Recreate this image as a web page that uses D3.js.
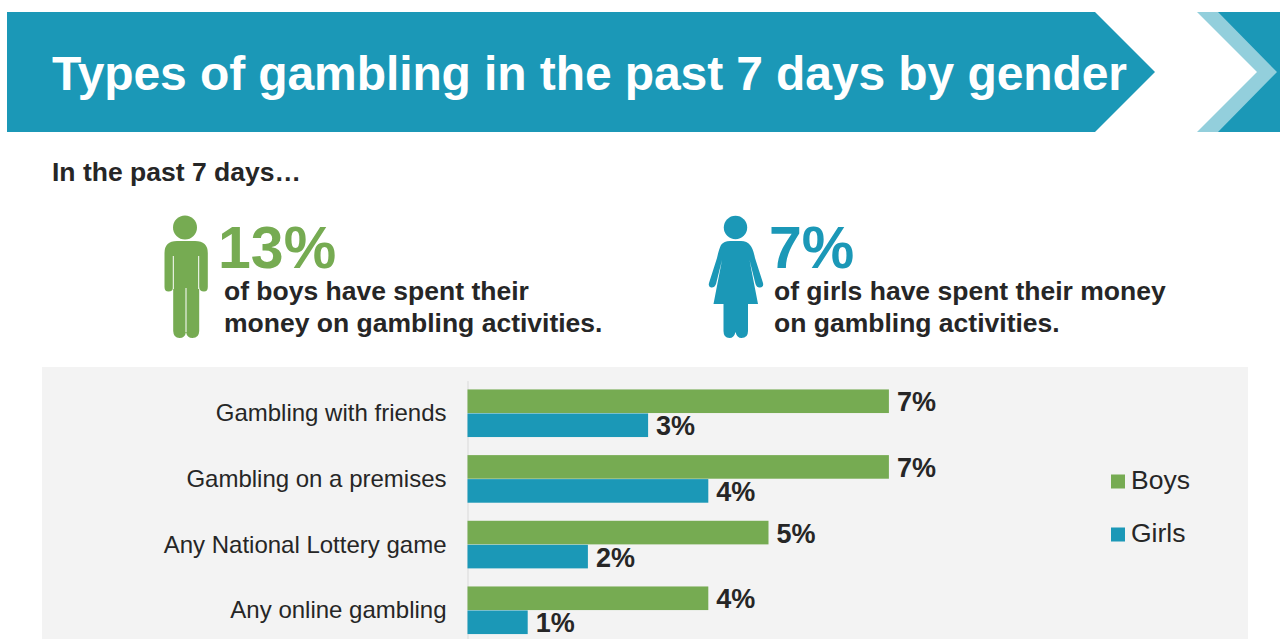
<!DOCTYPE html>
<html><head><meta charset="utf-8">
<script src="https://cdnjs.cloudflare.com/ajax/libs/d3/7.8.5/d3.min.js"></script>
<style>html,body{margin:0;padding:0;background:#fff}svg{display:block}text{font-family:"Liberation Sans",Arial,sans-serif}</style>
</head><body><div id="c"></div>
<script>
const categories=["Gambling with friends","Gambling on a premises","Any National Lottery game","Any online gambling"];
const seriesNames=["Boys","Girls"];
const boys=[7,7,5,4];
const girls=[3,4,2,1];
const colors=["#76AB52","#1B98B7"];
const textDark="#262626";
const svg=d3.select("#c").append("svg").attr("width",1280).attr("height",639);
// banner
svg.append("path").attr("d","M7 12H1095L1155 72L1095 132H7Z").attr("fill",colors[1]);
svg.append("path").attr("d","M1197 12H1280V132H1197L1257 72Z").attr("fill","#93CFDC");
svg.append("path").attr("d","M1218 12H1280V132H1218L1277 72Z").attr("fill",colors[1]);
svg.append("text").attr("x",52).attr("y",90).attr("fill","#fff").attr("font-size",48).attr("font-weight",700).attr("textLength",1075).text("Types of gambling in the past 7 days by gender");
svg.append("text").attr("x",52).attr("y",181).attr("fill",textDark).attr("font-size",26.5).attr("font-weight",700).text("In the past 7 days…");
// figures
const boy=svg.append("g").attr("fill",colors[0]);
boy.append("circle").attr("cx",185).attr("cy",227.5).attr("r",12);
boy.append("path").attr("d","M164.5 253Q164.5 241 177 241H195Q207.8 241 207.8 253V287Q207.8 291.5 204 291.5Q199.5 291.5 199.2 287V331Q199 338 192.5 338Q187 338 186 332Q185 338 179.5 338Q173.5 338 173.2 331V287Q173 291.5 168.5 291.5Q164.5 291.5 164.5 287Z");
const lines=svg.append("g").attr("stroke","#fff").attr("stroke-width",1).attr("fill","none");
lines.append("path").attr("d","M173.3 256V289M198.7 256V289M186 288V332");
const girl=svg.append("g").attr("fill",colors[1]);
girl.append("circle").attr("cx",735.5).attr("cy",227.5).attr("r",11.7);
girl.append("path").attr("d","M721 245Q724 241 730 241H741Q747 241 750 245Q753 248 755 258L763 283Q764 287 760 287.5Q757 288 755.5 284L749.5 260L758 304H748V331Q748 338 741.5 338Q737 338 735.5 332Q734 338 729.5 338Q723.5 338 723.5 331V304H713.5L722 260L716 284Q714.5 288 711 287.5Q708 287 709 283L717 258Q719 249 721 245Z");
lines.append("path").attr("d","M735.8 304V332");
// callouts
const callouts=[
 {x:218,tx:224,v:"13%",c:colors[0],l:["of boys have spent their","money on gambling activities."]},
 {x:769,tx:774,v:"7%",c:colors[1],l:["of girls have spent their money","on gambling activities."]}];
callouts.forEach(d=>{
 svg.append("text").attr("x",d.x).attr("y",268).attr("fill",d.c).attr("font-size",59).attr("font-weight",700).text(d.v);
 d.l.forEach((t,i)=>svg.append("text").attr("x",d.tx).attr("y",300+i*32).attr("fill",textDark).attr("font-size",26.5).attr("font-weight",700).text(t));
});
// panel
svg.append("rect").attr("x",42).attr("y",367).attr("width",1206).attr("height",272).attr("fill","#F3F3F3");
const x=d3.scaleLinear().domain([0,1]).range([467.5,527.7]);
const y=d3.scaleBand().domain(categories).range([380.6,643.3]);
const y1=d3.scaleBand().domain(seriesNames).range([y.bandwidth()/2-24,y.bandwidth()/2+24]);
const yAxis=d3.axisLeft(y).tickSize(0).tickPadding(21);
const ax=svg.append("g").attr("transform","translate(467.5,0)").call(yAxis);
ax.select(".domain").attr("stroke","#D9D9D9").attr("stroke-width",1);
ax.selectAll("text").attr("fill",textDark).attr("font-size",24).attr("dy","0.33em").style("font-family",'"Liberation Sans",Arial,sans-serif');
const rows=svg.append("g").selectAll("g").data(categories).join("g").attr("transform",d=>`translate(0,${y(d)})`);
[boys,girls].forEach((vals,s)=>{
 const name=seriesNames[s];
 rows.append("rect").attr("x",x(0)).attr("y",y1(name)).attr("height",y1.bandwidth()-0.4)
  .attr("width",(d,i)=>x(vals[i])-x(0)).attr("fill",colors[s]);
 rows.append("text").attr("x",(d,i)=>x(vals[i])+8).attr("y",y1(name)+y1.bandwidth()/2+0.4).attr("dy","0.35em")
  .attr("fill",textDark).attr("font-size",27).attr("font-weight",700).text((d,i)=>vals[i]+"%");
});
// legend
const legY=d3.scalePoint().domain(seriesNames).range([480,533]);
const leg=svg.append("g").selectAll("g").data(seriesNames).join("g").attr("transform",d=>`translate(0,${legY(d)})`);
leg.append("rect").attr("x",1111).attr("y",-5.5).attr("width",14).attr("height",14).attr("fill",(d,i)=>colors[i]);
leg.append("text").attr("x",1131).attr("dy","0.35em").attr("fill",textDark).attr("font-size",26.5).text(d=>d);
</script></body></html>
